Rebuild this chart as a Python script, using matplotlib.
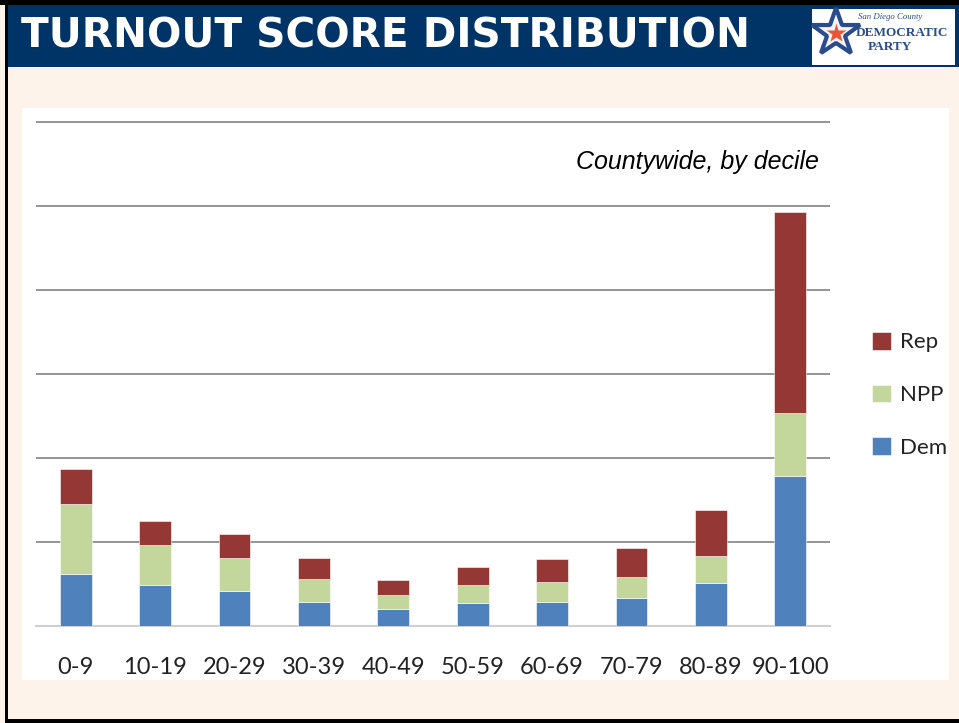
import matplotlib
matplotlib.use("Agg")
import matplotlib.pyplot as plt
from matplotlib.patches import Rectangle
from matplotlib.lines import Line2D
import numpy as np

categories = ["0-9", "10-19", "20-29", "30-39", "40-49", "50-59", "60-69", "70-79", "80-89", "90-100"]
dem = [0.615, 0.485, 0.42, 0.289, 0.199, 0.27, 0.29, 0.338, 0.515, 1.786]
npp = [0.833, 0.476, 0.386, 0.274, 0.17, 0.222, 0.238, 0.25, 0.321, 0.746]
rep = [0.417, 0.293, 0.286, 0.243, 0.175, 0.214, 0.274, 0.345, 0.544, 2.40]
series_names = ["Dem", "NPP", "Rep"]
series_colors = ["#4F81BD", "#C3D69B", "#953735"]

W, H = 959, 723
fig = plt.figure(figsize=(W / 100, H / 100), dpi=100)
fig.patch.set_facecolor("#FDF3EA")


def rect(x, y, w, h, **kw):
    r = Rectangle((x / W, 1 - (y + h) / H), w / W, h / H, transform=fig.transFigure, **kw)
    fig.add_artist(r)
    return r


# frame lines and banner
rect(0, 0, W, 5, facecolor="black", edgecolor="none", zorder=0)
rect(5, 0, 3, H, facecolor="black", edgecolor="none", zorder=0)
rect(5, 719, W, 4, facecolor="black", edgecolor="none", zorder=0)
rect(8, 5, W, 62, facecolor="#003366", edgecolor="none", zorder=0)
rect(22, 108, 927, 572, facecolor="white", edgecolor="none", zorder=0)

fig.text(21 / W, 1 - 37 / H, "TURNOUT SCORE DISTRIBUTION", color="white",
         fontsize=29.2, fontweight="heavy", family="DejaVu Sans",
         va="center", ha="left")

# logo
rect(812, 9, 143, 56, facecolor="white", edgecolor="none", zorder=1)
fig.add_artist(Line2D([836 / W], [1 - 33 / H], marker="*", markersize=36,
                      markerfacecolor="#F3F3F3", markeredgecolor="#2B4C8C",
                      markeredgewidth=3, transform=fig.transFigure, zorder=2))
fig.add_artist(Line2D([836 / W], [1 - 33 / H], marker="*", markersize=15,
                      markerfacecolor="#E8563A", markeredgecolor="none",
                      transform=fig.transFigure, zorder=2))
fig.text(858 / W, 1 - 17 / H, "San Diego County", color="#2B4C8C", fontsize=6.3,
         style="italic", ha="left", va="center", family="Liberation Serif", zorder=3)
fig.text(856 / W, 1 - 33 / H, "DEMOCRATIC", color="#2B4C8C", fontsize=9.5,
         fontweight="bold", ha="left", va="center", family="Liberation Serif", zorder=3)
fig.text(868 / W, 1 - 47 / H, "PARTY", color="#2B4C8C", fontsize=9.5,
         fontweight="bold", ha="left", va="center", family="Liberation Serif", zorder=3)

# axes
ax_left, ax_right, ax_top, ax_bottom = 36, 830, 120, 626
ax = fig.add_axes([ax_left / W, 1 - ax_bottom / H, (ax_right - ax_left) / W, (ax_bottom - ax_top) / H])
ax.patch.set_alpha(0)
x = np.arange(len(categories))
bottom = np.zeros(len(categories))
handles = []
for vals, name, col in zip([dem, npp, rep], series_names, series_colors):
    b = ax.bar(x, vals, width=0.4, bottom=bottom, color=col, label=name,
               edgecolor="white", linewidth=0.4, zorder=3)
    handles.append(b)
    bottom = bottom + np.array(vals)

ax.set_xlim(-0.5, len(categories) - 0.5)
ax.set_ylim(0, 6 * (ax_bottom - ax_top) / (ax_bottom - 122))
ax.set_yticks([1, 2, 3, 4, 5, 6])
ax.yaxis.grid(True, color="#8C8C8C", linewidth=1.3, zorder=0)
ax.set_axisbelow(True)
ax.tick_params(axis="y", left=False, labelleft=False)
ax.tick_params(axis="x", length=0, pad=22, labelsize=17)
ax.set_xticks(x)
ax.set_xticklabels(categories, family=["Lato", "DejaVu Sans"], color="#222222")
for s in ["top", "right", "left"]:
    ax.spines[s].set_visible(False)
ax.spines["bottom"].set_color("#D0D0D0")
ax.spines["bottom"].set_linewidth(1.5)

fig.text(819 / W, 1 - 162 / H, "Countywide, by decile", fontsize=18, style="italic",
         family="Liberation Sans", ha="right", va="center", color="black")

leg = fig.legend(handles[::-1], series_names[::-1], loc="center left",
                 bbox_to_anchor=(872 / W, 1 - 395 / H), frameon=False,
                 borderpad=0, borderaxespad=0,
                 handlelength=0.85, handleheight=0.85, handletextpad=0.4,
                 labelspacing=1.45, prop={"family": "Lato", "size": 16})
for t in leg.get_texts():
    t.set_color("#222222")

fig.savefig("out.png", dpi=100, facecolor=fig.get_facecolor())
